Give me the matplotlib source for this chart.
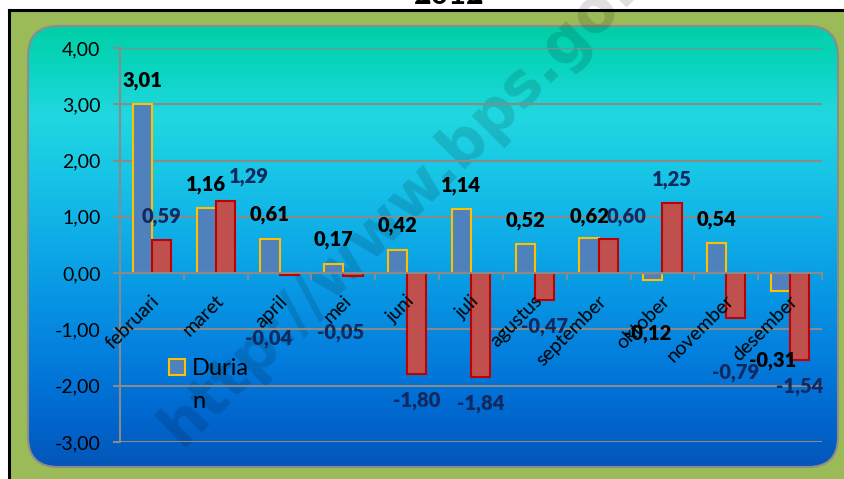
import numpy as np
import matplotlib.pyplot as plt
from matplotlib.patches import FancyBboxPatch, Rectangle
from matplotlib.colors import LinearSegmentedColormap
from matplotlib.transforms import offset_copy

# ---- data ----
months = ["februari", "maret", "april", "mei", "juni", "juli",
          "agustus", "september", "oktober", "november", "desember"]
durian = [3.01, 1.16, 0.61, 0.17, 0.42, 1.14, 0.52, 0.62, -0.12, 0.54, -0.31]
series2 = [0.59, 1.29, -0.04, -0.05, -1.80, -1.84, -0.47, 0.60, 1.25, -0.79, -1.54]
y_ticks = [-3, -2, -1, 0, 1, 2, 3, 4]

# label placement tweaks (data units for dy, pixels for dx), as in the original
lab1_dy = [0.42, 0.42, 0.43, 0.42, 0.42, 0.41, 0.42, 0.39, -0.96, 0.42, -1.25]
lab1_dx = [0, 0, 0, 0, 0, 0, 0, 0, -5, 0, -8]
lab2_dy = [0.42, 0.43, -1.13, -1.01, -0.47, -0.47, -0.47, 0.41, 0.42, -0.97, -0.47]
lab2_dx = [0, 24, -21, -12, 0, 0, 0, 18, 0, 0, 0]

W, H = 845, 479
FONT = "Lato"
BLUE, GOLD = "#4F81BD", "#FFC000"
RED, DARKRED = "#C0504D", "#C00000"
NAVY = "#102A60"
GRID = "#8A8A8A"
PX = 0.72  # points per pixel at dpi 100

fig = plt.figure(figsize=(W / 100, H / 100), dpi=100, facecolor="white")

# background in pixel coordinates
bg = fig.add_axes([0, 0, 1, 1])
bg.set_xlim(0, W)
bg.set_ylim(H, 0)
bg.axis("off")
bg.add_patch(Rectangle((9, 10), W, H, facecolor="#9BBB59", edgecolor="none"))
bg.plot([9, 9], [10, H], color="black", lw=2.2)
bg.plot([9, W], [10, 10], color="black", lw=2.2)

panel = FancyBboxPatch((28 + 30, 26 + 30), 810 - 60, 441 - 60,
                       boxstyle="round,pad=30", facecolor="none",
                       edgecolor="#8C8C8C", lw=1.5, zorder=3)
bg.add_patch(panel)
grad_cmap = LinearSegmentedColormap.from_list("bg", [
    (0.00, "#02CFA6"), (0.08, "#08D4BC"), (0.20, "#20D8E0"),
    (0.33, "#18C6E6"), (0.46, "#10B0E8"), (0.60, "#0898E4"),
    (0.74, "#0480DE"), (0.88, "#0068D0"), (1.00, "#0556B8")])
grad = np.linspace(0, 1, 256).reshape(-1, 1)
im = bg.imshow(grad, cmap=grad_cmap, aspect="auto",
               extent=[28, 838, 467, 26], zorder=2)
im.set_clip_path(panel)

# title (cut off at the top in the original)
fig.text(449 / W, 1 - 4 / H, "2012", ha="center", va="baseline",
         fontsize=22, fontweight="bold", family=FONT, color="black")

# watermark
bg.text(182, 448, "http://www.bps.go.id", rotation=45, rotation_mode="anchor",
        ha="left", va="baseline", fontsize=43, fontweight="bold",
        family="DejaVu Sans", color="black", alpha=0.13, zorder=4)

# main chart
ax = fig.add_axes([120 / W, 1 - 442 / H, 702 / W, 394 / H], facecolor="none")
ax.set_zorder(5)
x = np.arange(len(months))
w = 0.3
ax.bar(x - w / 2, durian, w, color=BLUE, edgecolor=GOLD, lw=1.5, zorder=3)
ax.bar(x + w / 2, series2, w, color=RED, edgecolor=DARKRED, lw=1.5, zorder=3)

ax.set_xlim(-0.5, len(months) - 0.5)
ax.set_ylim(-3, 4)
ax.set_yticks(y_ticks)
ax.set_yticklabels([f"{v:.2f}".replace(".", ",") for v in y_ticks],
                   family=FONT, fontsize=14)
ax.yaxis.grid(True, color=GRID, lw=1.5, zorder=1)
ax.tick_params(axis="y", length=5, width=1.5, color=GRID, pad=9)

for s in ["top", "right"]:
    ax.spines[s].set_visible(False)
ax.spines["left"].set_color(GRID)
ax.spines["left"].set_linewidth(1.5)
ax.spines["bottom"].set_position(("data", 0))
ax.spines["bottom"].set_color(GRID)
ax.spines["bottom"].set_linewidth(1.5)
ax.spines["bottom"].set_zorder(4)
ax.set_xticks(np.arange(-0.5, len(months), 1))
ax.set_xticklabels([])
ax.tick_params(axis="x", length=5, width=1.5, color=GRID)

for i, m in enumerate(months):
    tr = offset_copy(ax.transData, fig=fig, x=-1 * PX, y=-19 * PX, units="points")
    ax.text(i, 0, m, transform=tr, rotation=45, rotation_mode="anchor",
            ha="right", va="top", fontsize=14, family=FONT, color="black")

for i in range(len(months)):
    tr1 = offset_copy(ax.transData, fig=fig, x=lab1_dx[i] * PX, y=0, units="points")
    ax.text(i - w / 2, durian[i] + lab1_dy[i], f"{durian[i]:.2f}".replace(".", ","),
            transform=tr1, ha="center", va="center", fontsize=14.5,
            fontweight="heavy", family=FONT, color="black", zorder=6)
    tr2 = offset_copy(ax.transData, fig=fig, x=lab2_dx[i] * PX, y=0, units="points")
    ax.text(i + w / 2, series2[i] + lab2_dy[i], f"{series2[i]:.2f}".replace(".", ","),
            transform=tr2, ha="center", va="center", fontsize=14.5,
            fontweight="heavy", family=FONT, color=NAVY, zorder=6)

# legend (only the first entry is visible, text wrapped)
bg.add_patch(Rectangle((169, 359), 16, 16, facecolor=BLUE, edgecolor=GOLD,
                       lw=1.5, zorder=6))
bg.text(192, 375, "Duria", ha="left", va="baseline", fontsize=17,
        family=FONT, color="black", zorder=6)
bg.text(192, 408, "n", ha="left", va="baseline", fontsize=17,
        family=FONT, color="black", zorder=6)

fig.savefig("out.png", dpi=100, facecolor=fig.get_facecolor())
